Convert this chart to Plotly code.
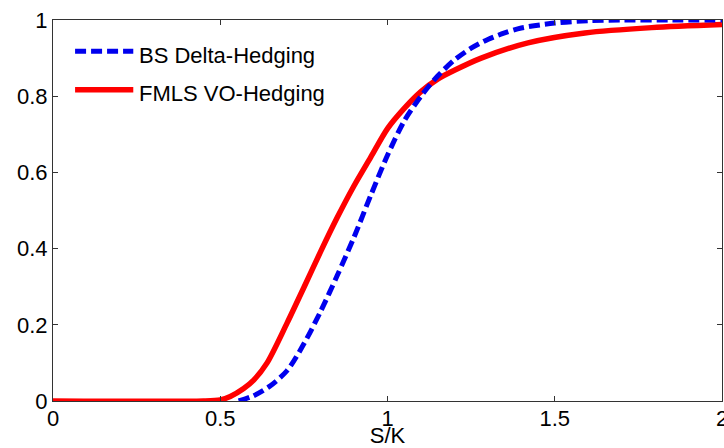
import plotly.graph_objects as go

# ---- data ----
bs_x = [0.555, 0.6, 0.65, 0.7, 0.75, 0.8, 0.85, 0.9, 0.95, 1.0, 1.05, 1.1, 1.15,
        1.2, 1.25, 1.3, 1.35, 1.4, 1.5, 1.6, 1.7, 1.85, 2.0]
bs_y = [0.0, 0.014, 0.04, 0.08, 0.15, 0.235, 0.33, 0.43, 0.54, 0.645, 0.735, 0.8, 0.853,
        0.895, 0.926, 0.949, 0.966, 0.979, 0.992, 0.998, 1.0, 1.0, 1.0]

fmls_x = [0.0, 0.45, 0.5, 0.53, 0.57, 0.6, 0.64, 0.7, 0.75, 0.8, 0.85, 0.9, 0.95,
          1.0, 1.05, 1.1, 1.15, 1.2, 1.28, 1.42, 1.59, 1.79, 2.0]
fmls_y = [0.0, 0.0, 0.003, 0.012, 0.033, 0.055, 0.1, 0.205, 0.298, 0.392, 0.482, 0.565,
          0.64, 0.715, 0.768, 0.812, 0.845, 0.868, 0.9, 0.94, 0.966, 0.98, 0.988]

series_names = ["BS Delta-Hedging", "FMLS VO-Hedging"]
x_ticks = [0, 0.5, 1, 1.5, 2]
x_ticklabels = ["0", "0.5", "1", "1.5", "2"]
y_ticks = [0, 0.2, 0.4, 0.6, 0.8, 1]
y_ticklabels = ["0", "0.2", "0.4", "0.6", "0.8", "1"]
x_title = "S/K"

RED = "#ff0000"
BLUE = "#0000ee"
FONT = "Liberation Sans, Arial, sans-serif"

fig = go.Figure()
fig.add_trace(go.Scatter(x=fmls_x, y=fmls_y, mode="lines", name=series_names[1],
                         line=dict(color=RED, width=5.5, shape="spline", smoothing=0.8),
                         showlegend=False))
fig.add_trace(go.Scatter(x=bs_x, y=bs_y, mode="lines", name=series_names[0],
                         line=dict(color=BLUE, width=5, dash="11px,5px", shape="spline", smoothing=0.8),
                         showlegend=False))

# manual legend (styling)
leg = [(0.918, 0.906, series_names[0], BLUE, "11px,5px", 5),
       (0.817, 0.808, series_names[1], RED, "solid", 5.5)]
for ly, ty, txt, col, dash, w in leg:
    fig.add_shape(type="line", xref="paper", yref="paper", x0=0.033, x1=0.12, y0=ly, y1=ly,
                  line=dict(color=col, width=w, dash=dash))
    fig.add_annotation(xref="paper", yref="paper", x=0.1256, y=ty, text=txt, showarrow=False,
                       xanchor="left", yanchor="middle", font=dict(size=22, color="black", family=FONT))

axis_common = dict(showgrid=False, zeroline=False, showline=True, linecolor="#333333", linewidth=1,
                   mirror="ticks", ticks="inside", ticklen=5, tickcolor="#333333", automargin=False,
                   tickfont=dict(size=22, color="black", family=FONT))
fig.update_xaxes(range=[0, 2], tickvals=x_ticks, ticktext=x_ticklabels, ticklabeloverflow="allow",
                 ticklabelstandoff=-2,
                 title=dict(text=x_title, font=dict(size=22, color="black", family=FONT), standoff=3),
                 **axis_common)
fig.update_yaxes(range=[0, 1], tickvals=y_ticks, ticktext=y_ticklabels, **axis_common)

fig.update_layout(width=724, height=448, margin=dict(l=53, r=2, t=20, b=47),
                  plot_bgcolor="white", paper_bgcolor="white",
                  font=dict(family=FONT, color="black"))

fig.write_html("out.html")
